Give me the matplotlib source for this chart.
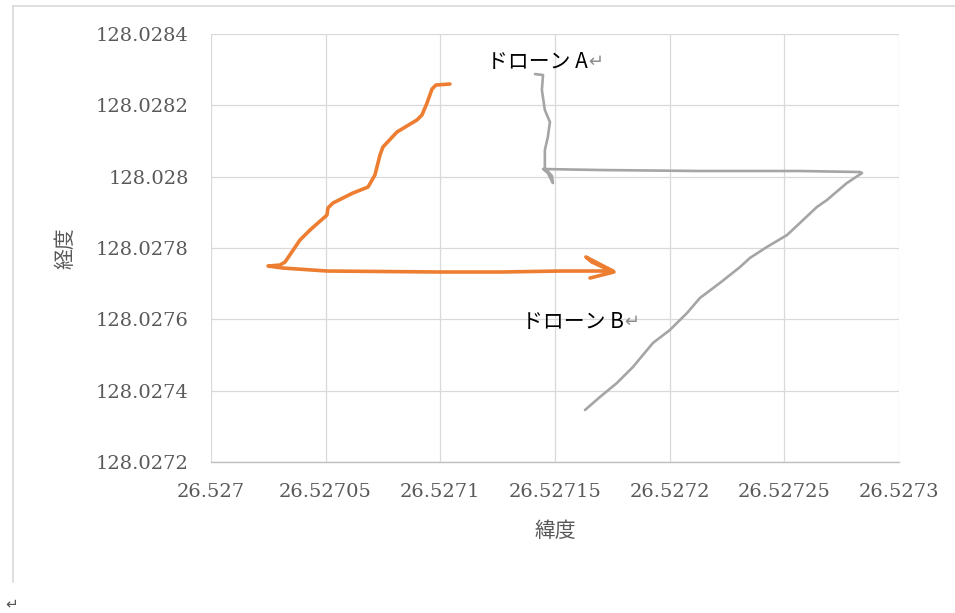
import matplotlib.pyplot as plt
from matplotlib.lines import Line2D

# ドローン B (orange) track: latitude / longitude samples
drone_b_lat = [
    26.5271042, 26.5270981, 26.5270964, 26.5270942, 26.5270920, 26.5270898,
    26.5270811, 26.5270750, 26.5270737, 26.5270715, 26.5270685, 26.5270619,
    26.5270532, 26.5270510, 26.5270506, 26.5270432, 26.5270388, 26.5270323,
    26.5270301, 26.5270249, 26.5270314, 26.5270506, 26.5271007, 26.5271260,
    26.5271522, 26.5271753, 26.5271635, 26.5271661, 26.5271757, 26.5271653,
]
drone_b_lon = [
    128.0282598, 128.0282570, 128.0282458, 128.0282065, 128.0281729, 128.0281589,
    128.0281252, 128.0280832, 128.0280607, 128.0280047, 128.0279710, 128.0279542,
    128.0279262, 128.0279121, 128.0278925, 128.0278505, 128.0278224, 128.0277607,
    128.0277523, 128.0277495, 128.0277439, 128.0277355, 128.0277327, 128.0277327,
    128.0277355, 128.0277355, 128.0277748, 128.0277607, 128.0277327, 128.0277159,
]

# ドローン A (gray) track
drone_a_lat = [
    26.5271631, 26.5271696, 26.5271770, 26.5271840, 26.5271927, 26.5272001,
    26.5272076, 26.5272132, 26.5272219, 26.5272307, 26.5272350, 26.5272424,
    26.5272512, 26.5272568, 26.5272642, 26.5272686, 26.5272773, 26.5272839,
    26.5272830, 26.5272568, 26.5272132, 26.5271696, 26.5271448, 26.5271469,
    26.5271491, 26.5271487, 26.5271456, 26.5271456, 26.5271469, 26.5271478,
    26.5271456, 26.5271443, 26.5271448, 26.5271413,
]
drone_a_lon = [
    128.0273458, 128.0273822, 128.0274215, 128.0274664, 128.0275336, 128.0275701,
    128.0276178, 128.0276598, 128.0277019, 128.0277467, 128.0277720, 128.0278028,
    128.0278364, 128.0278701, 128.0279149, 128.0279346, 128.0279822, 128.0280103,
    128.0280131, 128.0280159, 128.0280159, 128.0280187, 128.0280215, 128.0280103,
    128.0279822, 128.0280019, 128.0280243, 128.0280748, 128.0281112, 128.0281533,
    128.0281869, 128.0282430, 128.0282850, 128.0282878,
]

x_ticks = [26.527, 26.52705, 26.5271, 26.52715, 26.5272, 26.52725, 26.5273]
x_tick_labels = ["26.527", "26.52705", "26.5271", "26.52715", "26.5272", "26.52725", "26.5273"]
y_ticks = [128.0272, 128.0274, 128.0276, 128.0278, 128.028, 128.0282, 128.0284]
y_tick_labels = ["128.0272", "128.0274", "128.0276", "128.0278", "128.028", "128.0282", "128.0284"]

jp_font = ["Noto Sans CJK JP", "DejaVu Sans"]
tick_color = "#595959"

figure = plt.figure(figsize=(9.55, 6.13), dpi=100)
axes = figure.add_axes([0.2209, 0.2463, 0.7204, 0.6982])

axes.plot(drone_b_lat, drone_b_lon, color="#ED7D31", linewidth=2.6,
          solid_joinstyle="round", solid_capstyle="round")
axes.plot(drone_a_lat, drone_a_lon, color="#A5A5A5", linewidth=1.9,
          solid_joinstyle="round", solid_capstyle="round")

axes.set_xlim(26.527, 26.5273)
axes.set_ylim(128.0272, 128.0284)
axes.set_xticks(x_ticks, x_tick_labels)
axes.set_yticks(y_ticks, y_tick_labels)
axes.tick_params(length=0, labelsize=14, labelcolor=tick_color)
axes.tick_params(axis="x", pad=15)
axes.tick_params(axis="y", pad=16)
for label in axes.get_xticklabels() + axes.get_yticklabels():
    label.set_family("DejaVu Serif")

axes.grid(True, color="#d9d9d9", linewidth=0.9)
axes.set_axisbelow(True)
for side in ["top", "right", "left"]:
    axes.spines[side].set_visible(False)
axes.spines["bottom"].set_color("#bfbfbf")
axes.spines["bottom"].set_linewidth(1.0)

axes.set_xlabel("緯度", family=jp_font, fontsize=15, color=tick_color)
axes.set_ylabel("経度", family=jp_font, fontsize=15, color=tick_color)
axes.xaxis.set_label_coords(0.5, -0.136)
axes.yaxis.set_label_coords(-0.196, 0.5)

# series labels with the trailing return mark in gray
label_a = axes.text(26.5271204, 128.0283215, "ドローン A", family=jp_font,
                    fontsize=15, color="black", va="center", ha="left")
axes.annotate("↵", xy=(1, 0.5), xycoords=label_a, va="center", ha="left",
              family=jp_font, fontsize=13, color="#8c8c8c")
label_b = axes.text(26.5271356, 128.0275925, "ドローン B", family=jp_font,
                    fontsize=15, color="black", va="center", ha="left")
axes.annotate("↵", xy=(1, 0.5), xycoords=label_b, va="center", ha="left",
              family=jp_font, fontsize=13, color="#8c8c8c")

# chart frame edges (top and left) and paragraph mark below
figure.add_artist(Line2D([13 / 955, 1.0], [1 - 6 / 613, 1 - 6 / 613],
                         color="#d9d9d9", linewidth=1.2))
figure.add_artist(Line2D([13 / 955, 13 / 955], [1 - 6 / 613, 1 - 582 / 613],
                         color="#d9d9d9", linewidth=1.2))
figure.text(5 / 955, 1 - 604 / 613, "↵", family=jp_font, fontsize=11,
            color="#555555", va="center", ha="left")

figure.savefig("out.png", dpi=100)
